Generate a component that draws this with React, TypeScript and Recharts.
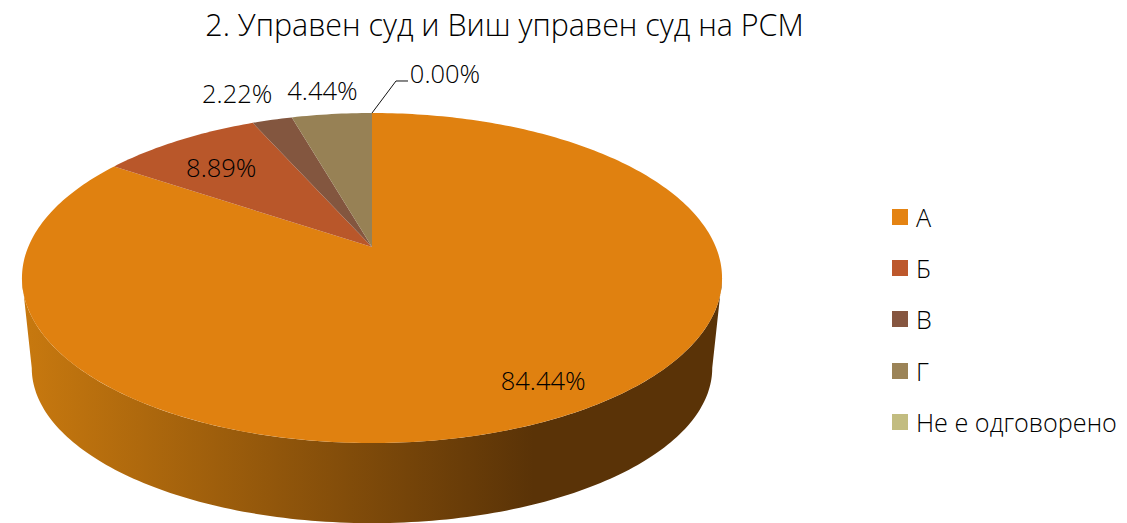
import React from 'react';
import { PieChart, Pie, Cell, Legend } from 'recharts';

const TITLE = '2. Управен суд и Виш управен суд на РСМ';
const categories = ['А', 'Б', 'В', 'Г', 'Не е одговорено'];
const shares = [84.44, 8.89, 2.22, 4.44, 0.0];
const topColors = ['#E08110', '#B9572A', '#83563F', '#978155', '#C2BC80'];
const legendColors = ['#E48312', '#BD582C', '#865640', '#9B8357', '#C2BC80'];
const chartData = categories.map((name, i) => ({ name, value: shares[i] }));

const FONT = '"Open Sans", sans-serif';
const TILT = 0.188;
const SPREAD_X = 343.8;
const SPREAD_Y = 159.2;
const SIDE_DEPTH = 90;
const RAD = Math.PI / 180;

// Projects a point of the flat disc (polar angle in recharts degrees, radius 0..1) to the tilted disc.
const project = (cx: number, cy: number, deg: number, r = 1) => {
  const u = r * Math.cos(deg * RAD);
  const v = r * Math.sin(deg * RAD);
  const w = 1 + TILT * v;
  return { x: cx + (SPREAD_X * u) / w, y: cy - (SPREAD_Y * v) / w };
};
const rimBelow = (cx: number, cy: number, p: { x: number; y: number }) => ({
  x: cx + (p.x - cx) * 0.972,
  y: cy + 31 + SIDE_DEPTH + (p.y - cy - 31) * 0.94,
});

const wallFrom = 90 - 259.2; // recharts degrees, left tangent
const wallTo = 90 - 100.8; // recharts degrees, right tangent

const Slice = (props: any) => {
  const { cx, cy, startAngle, endAngle, fill } = props;
  const steps = Math.max(1, Math.ceil(Math.abs(startAngle - endAngle)));
  const arc: string[] = [];
  for (let i = 0; i <= steps; i++) {
    const p = project(cx, cy, startAngle + ((endAngle - startAngle) * i) / steps);
    arc.push(`${p.x.toFixed(2)},${p.y.toFixed(2)}`);
  }
  const lo = Math.max(Math.min(startAngle, endAngle), wallFrom);
  const hi = Math.min(Math.max(startAngle, endAngle), wallTo);
  let wall = '';
  if (hi > lo) {
    const top: string[] = [];
    const bottom: string[] = [];
    const n = Math.ceil(hi - lo);
    for (let i = 0; i <= n; i++) {
      const p = project(cx, cy, lo + ((hi - lo) * i) / n);
      const q = rimBelow(cx, cy, p);
      top.push(`${p.x.toFixed(2)},${p.y.toFixed(2)}`);
      bottom.unshift(`${q.x.toFixed(2)},${q.y.toFixed(2)}`);
    }
    wall = `M${top.join('L')}L${bottom.join('L')}Z`;
  }
  return (
    <g>
      {wall && <path d={wall} fill="url(#sideShade)" />}
      <path d={`M${cx},${cy}L${arc.join('L')}Z`} fill={fill} />
    </g>
  );
};

const labelPlacement = [
  { r: 0.82, dx: 18, dy: 0 },
  { r: 0.62, dx: -25, dy: -11 },
  { r: 1.2, dx: -18.5, dy: -6 },
  { r: 1.22, dx: -2, dy: 0 },
  { r: 1, dx: 73, dy: -40 },
];

const SliceLabel = (props: any) => {
  const { cx, cy, index, value } = props;
  const mid = props.midAngle ?? (props.startAngle + props.endAngle) / 2;
  const pl = labelPlacement[index];
  const p = project(cx, cy, mid, pl.r);
  const x = p.x + pl.dx;
  const y = p.y + pl.dy;
  const text = `${Number(value).toFixed(2)}%`;
  return (
    <g>
      {index === 4 && (
        <polyline
          points={`${p.x},${p.y} ${p.x + 24},${p.y - 32} ${p.x + 36},${p.y - 32}`}
          fill="none"
          stroke="#111"
          strokeWidth={1}
        />
      )}
      <text x={x} y={y} textAnchor="middle" dominantBaseline="central" fontFamily={FONT} fontWeight={300} fontSize={25.5} fill="#000">
        {text}
      </text>
    </g>
  );
};

const LegendList = () => (
  <div style={{ fontFamily: FONT, fontWeight: 300, fontSize: 25.2, color: '#000' }}>
    {categories.map((name, i) => (
      <div key={name} style={{ display: 'flex', alignItems: 'center', height: 51.3, whiteSpace: 'nowrap' }}>
        <span style={{ width: 16, height: 16, background: legendColors[i], marginRight: 8, flex: 'none' }} />
        <span>{name}</span>
      </div>
    ))}
  </div>
);

export default function App() {
  return (
    <div style={{ position: 'absolute', left: 0, top: 0, width: 1127, height: 523, overflow: 'hidden', background: '#fff' }}>
      <div style={{ position: 'absolute', left: 0, width: 1009, top: 6, textAlign: 'center', fontFamily: FONT, fontWeight: 300, fontSize: 30.4, lineHeight: '38px', color: '#000', whiteSpace: 'nowrap' }}>
        {TITLE}
      </div>
      <PieChart width={1127} height={523} margin={{ top: 0, right: 0, bottom: 0, left: 0 }}>
        <defs>
          <linearGradient id="sideShade" gradientUnits="userSpaceOnUse" x1="22" x2="722" y1="0" y2="0">
            <stop offset="0" stopColor="#C8790F" />
            <stop offset="0.73" stopColor="#5A3307" />
            <stop offset="1" stopColor="#5A3307" />
          </linearGradient>
        </defs>
        <Pie
          data={chartData}
          dataKey="value"
          nameKey="name"
          cx={372}
          cy={247}
          outerRadius={200}
          startAngle={90}
          endAngle={-270}
          paddingAngle={0}
          stroke="none"
          isAnimationActive={false}
          shape={Slice}
          label={SliceLabel}
          labelLine={false}
        >
          {chartData.map((d, i) => (
            <Cell key={d.name} fill={topColors[i]} />
          ))}
        </Pie>
        <Legend content={LegendList} wrapperStyle={{ position: 'absolute', left: 892, top: 191, width: 235 }} />
      </PieChart>
    </div>
  );
}
